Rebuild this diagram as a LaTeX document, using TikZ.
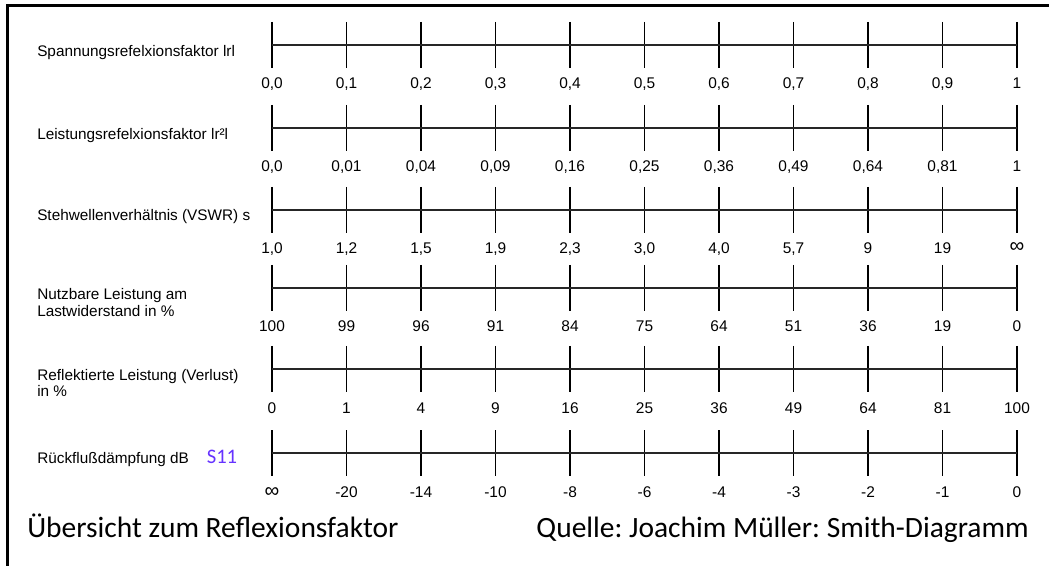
\documentclass[tikz,border=0pt]{standalone}
\usepackage{fontspec}
\setmainfont{Liberation Sans}
\newfontfamily\calib{Carlito}
\definecolor{sviolet}{RGB}{102,51,255}
\frenchspacing
\newcommand\infsym{{\fontsize{15.5}{16}\selectfont ∞}}
\newcommand\scalerow[3]{%
  \foreach \v [count=\i from 0] in {#3} {
    \coordinate (#1-\i) at ({272+74.5*\i},#2);
    \draw[tickline] ({272+74.5*\i},#2-23) -- ({272+74.5*\i},#2+23);
    \node[val] (#1-l\i) at ({272+74.5*\i},#2+44) {\v};
  }
  \draw[axisline] (#1-0) -- (#1-10);
}
\begin{document}
\begin{tikzpicture}[x=0.75pt,y=-0.75pt,
  tickline/.style={line width=1.4pt,black},
  axisline/.style={line width=1.1pt,black!85},
  val/.style={anchor=base,inner sep=0pt,font=\fontsize{11.6}{13}\selectfont},
  rowlab/.style={anchor=base west,inner sep=0pt,font=\fontsize{11.5}{13}\selectfont},
  bigtext/.style={inner sep=0pt,font=\calib\fontsize{22.1}{26}\selectfont}]
\useasboundingbox (0,0) rectangle (1049,566);
\draw[line width=2pt] (7.5,566) -- (7.5,5.5) -- (1049,5.5);

\scalerow{a}{45}{{0,0},{0,1},{0,2},{0,3},{0,4},{0,5},{0,6},{0,7},{0,8},{0,9},1}
\scalerow{b}{128}{{0,0},{0,01},{0,04},{0,09},{0,16},{0,25},{0,36},{0,49},{0,64},{0,81},1}
\scalerow{c}{210}{{1,0},{1,2},{1,5},{1,9},{2,3},{3,0},{4,0},{5,7},9,19,\raisebox{1pt}{\infsym}}
\scalerow{d}{288}{100,99,96,91,84,75,64,51,36,19,0}
\scalerow{e}{369}{0,1,4,9,16,25,36,49,64,81,100}
\scalerow{f}{453}{\infsym,-20,-14,-10,-8,-6,-4,-3,-2,-1,0}

\node[rowlab] (la) at (37,57) {Spannungsrefelxionsfaktor lrl};
\node[rowlab] (lb) at (37,140) {Leistungsrefelxionsfaktor lr²l};
\node[rowlab] (lc) at (37,221) {Stehwellenverhältnis (VSWR) s};
\node[rowlab] (ld1) at (37,300) {Nutzbare Leistung am};
\node[rowlab] (ld2) at (37,317) {Lastwiderstand in \%};
\node[rowlab] (le1) at (37,380) {Reflektierte Leistung (Verlust)};
\node[rowlab] (le2) at (37,397) {in \%};
\node[rowlab] (lf) at (37,463) {Rückflußdämpfung dB};
\node[anchor=base,inner sep=0pt,text=sviolet,font=\calib\fontsize{15.5}{18}\selectfont] (s11) at (222,463) {S11};

\node[bigtext,anchor=base west] (title) at (27,537) {Übersicht zum Reflexionsfaktor};
\node[bigtext,anchor=base east] (src) at (1029,537) {Quelle: Joachim Müller: Smith-Diagramm};
\end{tikzpicture}
\end{document}
